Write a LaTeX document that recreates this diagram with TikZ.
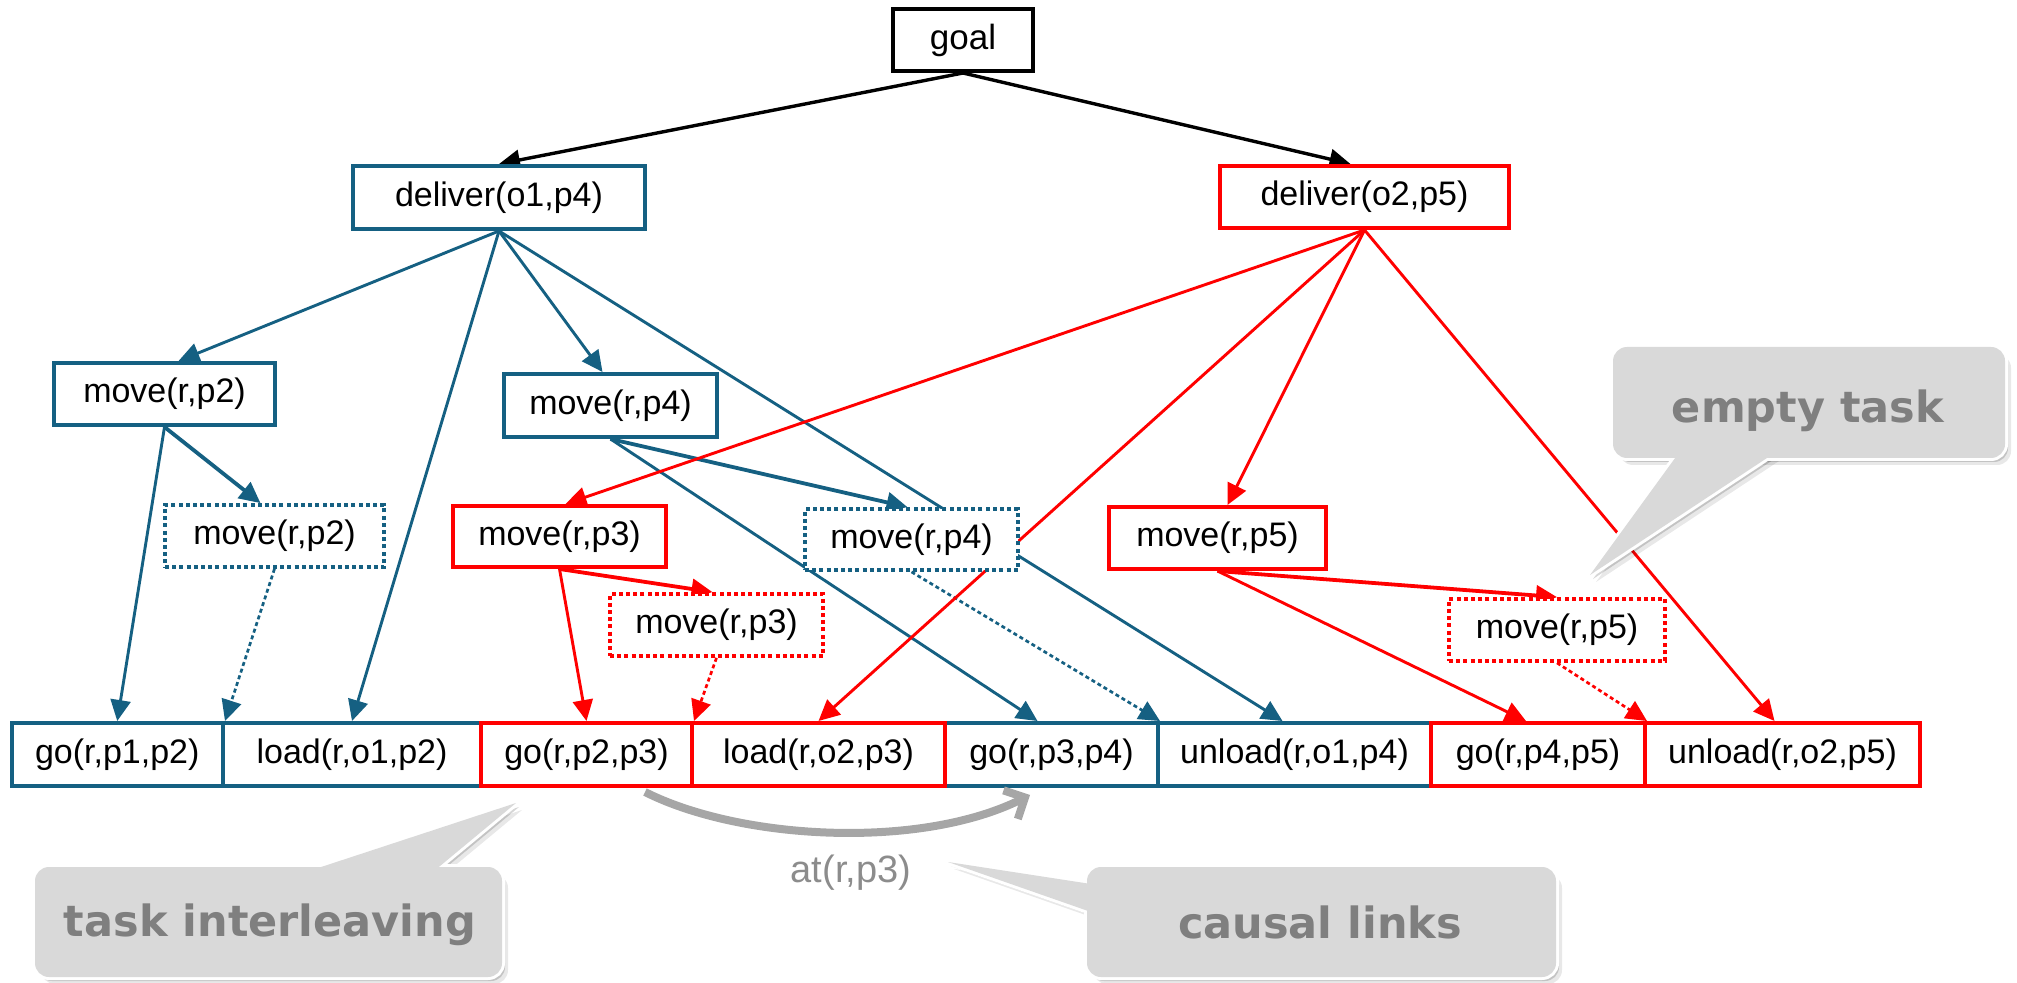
\documentclass[tikz,border=0pt]{standalone}
\usepackage{fontspec}
\setmainfont{Liberation Sans}
\newfontfamily\calfont{DejaVu Sans}
\usetikzlibrary{arrows.meta,backgrounds}
\definecolor{tblue}{HTML}{156082}
\definecolor{cfill}{HTML}{D9D9D9}
\definecolor{ctext}{HTML}{7F7F7F}
\definecolor{carrow}{HTML}{A6A6A6}
\definecolor{clabel}{HTML}{8C8C8C}
\begin{document}
\begin{tikzpicture}[x=0.5pt,y=-0.5pt,
  nd/.style={rectangle, draw, fill=white, line width=2pt, inner sep=0pt,
    font=\fontsize{17pt}{20pt}\selectfont, text=black, minimum height=31pt},
  bl/.style={nd, draw=tblue},
  rd/.style={nd, draw=red},
  dt/.style={line width=1.9pt, dash pattern=on 2pt off 1.6pt},
  ed/.style={line width=1.45pt, -{Triangle[length=10.5pt,width=10pt]}},
  edt/.style={ed, line width=1.9pt},
  edd/.style={ed, line width=1.35pt, dash pattern=on 2pt off 1.5pt},
  cfont/.style={font=\calfont\bfseries\fontsize{21.5pt}{24pt}\selectfont, text=ctext, inner sep=0pt},
  ]
\useasboundingbox (0,0) rectangle (2017,983);

% ---------- nodes ----------
\node[nd, draw=black, minimum width=70pt, font=\fontsize{17.5pt}{20pt}\selectfont] (goal) at (963,40) {goal};
\node[bl, minimum width=146pt, minimum height=31.5pt] (d1) at (499,197.5) {deliver(o1,p4)};
\node[rd, minimum width=144.5pt] (d2) at (1364.5,197) {deliver(o2,p5)};
\node[bl, minimum width=110.5pt] (m2) at (164.5,394) {move(r,p2)};
\node[bl, minimum width=106.5pt, minimum height=31.5pt] (m4) at (610.5,405.5) {move(r,p4)};
\node[bl, dt, minimum width=109.5pt] (m2d) at (274.5,536) {move(r,p2)};
\node[rd, minimum width=106.5pt, minimum height=30.5pt] (m3) at (559.5,536.5) {move(r,p3)};
\node[bl, dt, minimum width=106.5pt, minimum height=30.5pt] (m4d) at (911.5,539.5) {move(r,p4)};
\node[rd, minimum width=108.5pt] (m5) at (1217.5,538) {move(r,p5)};
\node[rd, dt, minimum width=106.5pt] (m3d) at (716.5,625) {move(r,p3)};
\node[rd, dt, minimum width=108pt] (m5d) at (1557,630) {move(r,p5)};

\node[bl, minimum width=105.75pt, minimum height=31.5pt] (g12) at (117.25,754.5) {go(r,p1,p2)};
\node[bl, minimum width=129pt, minimum height=31.5pt] (l1) at (352,754.5) {load(r,o1,p2)};
\node[bl, minimum width=106.5pt, minimum height=31.5pt] (g34) at (1051.5,754.5) {go(r,p3,p4)};
\node[bl, minimum width=136.5pt, minimum height=31.5pt] (u1) at (1294.5,754.5) {unload(r,o1,p4)};
\node[rd, minimum width=105.5pt, minimum height=31.5pt] (g23) at (586.5,754.5) {go(r,p2,p3)};
\node[rd, minimum width=126.5pt, minimum height=31.5pt] (l2) at (818.5,754.5) {load(r,o2,p3)};
\node[rd, minimum width=107pt, minimum height=31.5pt] (g45) at (1538,754.5) {go(r,p4,p5)};
\node[rd, minimum width=137.5pt, minimum height=31.5pt] (u2) at (1782.5,754.5) {unload(r,o2,p5)};

% ---------- connectors ----------
\begin{pgfonlayer}{background}
\draw[ed, line width=1.7pt, black] (goal.south) -- (d1.north);
\draw[ed, line width=1.7pt, black] (goal.south) -- ([xshift=-7pt]d2.north);

\begin{scope}[tblue]
\draw[ed] (d1.south) -- ([xshift=7pt]m2.north);
\draw[ed] (d1.south) -- (l1.north);
\draw[ed] (d1.south) -- ([xshift=-4pt]m4.north);
\draw[ed] (d1.south) -- ([xshift=-6pt]u1.north);
\draw[ed] (m2.south) -- (g12.north);
\draw[edt] (m2.south) -- ([xshift=-7pt]m2d.north);
\draw[edd] (m2d.south) -- (g12.north east);
\draw[edt] (m4.south) -- ([xshift=-2pt]m4d.north);
\draw[ed] (m4.south) -- ([xshift=-7pt]g34.north);
\draw[edd] (m4d.south) -- (g34.north east);
\end{scope}

\begin{scope}[red]
\draw[ed] (d2.south) -- ([xshift=3pt]m3.north);
\draw[ed] (d2.south) -- (l2.north);
\draw[ed] (d2.south) -- ([xshift=5pt]m5.north);
\draw[ed] (d2.south) -- ([xshift=-4pt]u2.north);
\draw[ed] (m3.south) -- (g23.north);
\draw[edt] (m3.south) -- ([xshift=-2pt]m3d.north);
\draw[edd] (m3d.south) -- (g23.north east);
\draw[edt] (m5.south) -- (m5d.north);
\draw[ed] (m5.south) -- ([xshift=-6pt]g45.north);
\draw[edd] (m5d.south) -- (g45.north east);
\end{scope}
\end{pgfonlayer}

% ---------- causal link ----------
\coordinate (cs) at (645,792);
\coordinate (ce) at (1030,795);
\draw[carrow, line width=4pt, -{Straight Barb[length=8pt,width=16pt]}]
  (cs) .. controls (740,840) and (920,850) .. (ce);
\node[text=clabel, font=\fontsize{19pt}{22pt}\selectfont] (atl) at (851,873) {at(r,p3)};

% ---------- callouts ----------
\foreach \sx/\sy/\op in {6/7/0.09, 3/4/0.16}{
  \begin{scope}[shift={(\sx,\sy)}]
  \fill[black, opacity=\op, rounded corners=7pt] (1613,347) rectangle (2005,458);
  \fill[black, opacity=\op] (1678,454) -- (1590,575) -- (1773,454) -- cycle;
  \fill[black, opacity=\op, rounded corners=7pt] (35,867) rectangle (502,977);
  \fill[black, opacity=\op] (309,871) -- (516,803) -- (434,871) -- cycle;
  \fill[black, opacity=\op, rounded corners=7pt] (1087,867) rectangle (1556,977);
  \fill[black, opacity=\op] (1091,884) -- (948,862) -- (1091,912) -- cycle;
  \end{scope}
}
\begin{scope}[white, line width=3pt]
\draw[rounded corners=7pt] (1613,347) rectangle (2005,458);
\draw (1678,454) -- (1590,575) -- (1773,454) -- cycle;
\draw[rounded corners=7pt] (35,867) rectangle (502,977);
\draw (309,871) -- (516,803) -- (434,871) -- cycle;
\draw[rounded corners=7pt] (1087,867) rectangle (1556,977);
\draw (1091,884) -- (948,862) -- (1091,912) -- cycle;
\end{scope}
\begin{scope}[cfill]
\fill[rounded corners=7pt] (1613,347) rectangle (2005,458);
\fill (1678,454) -- (1590,575) -- (1773,454) -- cycle;
\fill[rounded corners=7pt] (35,867) rectangle (502,977);
\fill (309,871) -- (516,803) -- (434,871) -- cycle;
\fill[rounded corners=7pt] (1087,867) rectangle (1556,977);
\fill (1091,884) -- (948,862) -- (1091,912) -- cycle;
\end{scope}

\node[cfont] (cet) at (1808,411) {empty task};
\node[cfont] (cti) at (270,925) {task interleaving};
\node[cfont] (ccl) at (1320,922.5) {causal links};
\end{tikzpicture}
\end{document}
